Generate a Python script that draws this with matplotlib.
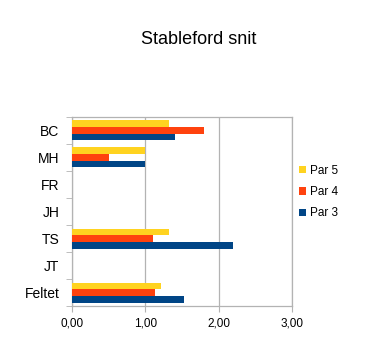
import numpy as np
import matplotlib
matplotlib.use("Agg")
import matplotlib.pyplot as plt

# data
players = ["BC", "MH", "FR", "JH", "TS", "JT", "Feltet"]
par5 = [1.33, 1.00, 0, 0, 1.33, 0, 1.22]
par4 = [1.80, 0.50, 0, 0, 1.10, 0, 1.13]
par3 = [1.40, 1.00, 0, 0, 2.20, 0, 1.53]
xticks = [0, 1, 2, 3]
xlabels = ["0,00", "1,00", "2,00", "3,00"]

plt.rcParams['font.family'] = ['Liberation Sans', 'DejaVu Sans']

fig = plt.figure(figsize=(3.66, 3.47), dpi=100)
ax = fig.add_axes([0.197, 0.118, 0.600, 0.545])

y = np.arange(len(players))
h = 0.247
ax.barh(y - h, par5, height=h, color="#FFD320", label="Par 5", zorder=3)
ax.barh(y, par4, height=h, color="#FF420E", label="Par 4", zorder=3)
ax.barh(y + h, par3, height=h, color="#004586", label="Par 3", zorder=3)

ax.set_ylim(len(players) - 0.5, -0.5)
ax.set_xlim(0, 3)
ax.set_yticks(y)
ax.set_yticklabels(players, fontsize=10)
ax.set_yticks(np.arange(len(players) + 1) - 0.5, minor=True)
ax.tick_params(axis="y", which="major", length=0, pad=9)
ax.tick_params(axis="y", which="minor", length=4, color="#b3b3b3")
ax.set_xticks(xticks)
ax.set_xticklabels(xlabels, fontsize=8.5)
ax.tick_params(axis="x", length=4, color="#b3b3b3", pad=4)

ax.grid(axis="x", color="#b3b3b3", linewidth=0.9, zorder=0)
for s in ax.spines.values():
    s.set_color("#b3b3b3")
    s.set_linewidth(0.9)

fig.text(0.542, 0.886, "Stableford snit", ha="center", va="center", fontsize=13)

leg = ax.legend(loc="center left", bbox_to_anchor=(0.985, 0.603), frameon=False,
                fontsize=8.5, handlelength=0.6, handleheight=0.6,
                handletextpad=0.35, labelspacing=0.8)

fig.savefig("out.png", dpi=100)
